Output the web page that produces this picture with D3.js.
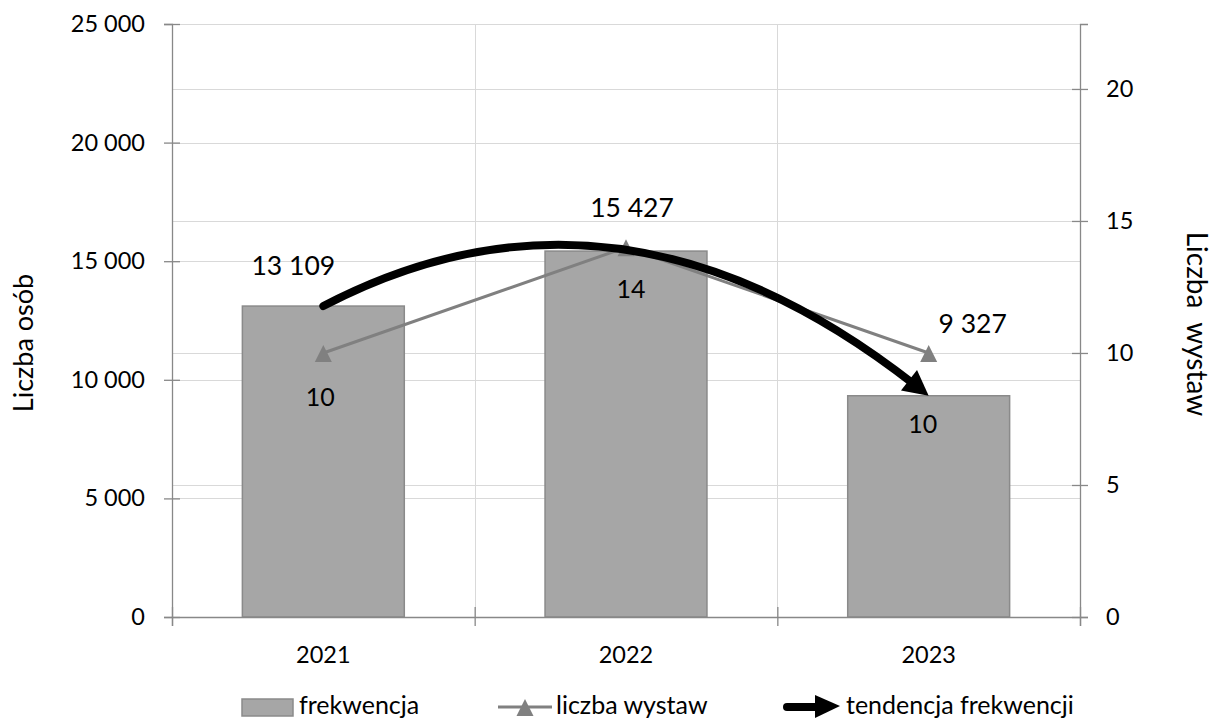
<!DOCTYPE html>
<html><head><meta charset="utf-8">
<script src="https://cdn.jsdelivr.net/npm/d3@7"></script>
<style>body{margin:0;background:#fff}svg{display:block}text{font-family:Lato,"Open Sans",sans-serif;fill:#000}</style>
</head><body>
<svg id="c" width="1215" height="722"></svg>
<script>
const categories = ["2021", "2022", "2023"];
const frekwencja = [13109, 15427, 9327];
const liczbaWystaw = [10, 14, 10];
const leftTicks = [0, 5000, 10000, 15000, 20000, 25000];
const rightTicks = [0, 5, 10, 15, 20];
const seriesNames = ["frekwencja", "liczba wystaw", "tendencja frekwencji"];

const svg = d3.select("#c");
const M = {l:172, r:1080, t:24, b:617};
const loc = d3.formatLocale({decimal:",", thousands:"\u00a0", grouping:[3], currency:["",""]});
const fmt = loc.format(",d");
const FONT = "Lato,'Open Sans',sans-serif";

const x = d3.scaleBand().domain(categories).range([M.l, M.r]).paddingInner(0).paddingOuter(0);
const yL = d3.scaleLinear().domain([0, 25000]).range([M.b, M.t]);
const yR = d3.scaleLinear().domain([0, 22.46]).range([M.b, M.t]);

const grid = svg.append("g").attr("stroke", "#d9d9d9").attr("stroke-width", 1);
leftTicks.slice(1).forEach(v => grid.append("line").attr("x1", M.l).attr("x2", M.r).attr("y1", Math.round(yL(v))+0.5).attr("y2", Math.round(yL(v))+0.5));
rightTicks.slice(1).forEach(v => grid.append("line").attr("x1", M.l).attr("x2", M.r).attr("y1", Math.round(yR(v))+0.5).attr("y2", Math.round(yR(v))+0.5));
categories.forEach((c,i) => { if (i>0) grid.append("line").attr("y1", M.t).attr("y2", M.b).attr("x1", Math.round(x(c))+0.5).attr("x2", Math.round(x(c))+0.5); });

// bars
const bw = x.bandwidth()*0.535;
svg.append("g").selectAll("rect").data(frekwencja).join("rect")
  .attr("x", (d,i) => x(categories[i]) + x.bandwidth()/2 - bw/2)
  .attr("y", d => yL(d)).attr("width", bw).attr("height", d => M.b - yL(d))
  .attr("fill", "#a6a6a6").attr("stroke", "#8a8a8a").attr("stroke-width", 1.5);

// axes
const axisCol = "#888";
const gL = svg.append("g").attr("transform", `translate(${M.l},0)`)
  .call(d3.axisLeft(yL).tickValues(leftTicks).tickFormat(fmt).tickSize(8).tickPadding(19));
const gR = svg.append("g").attr("transform", `translate(${M.r},0)`)
  .call(d3.axisRight(yR).tickValues(rightTicks).tickFormat(d3.format("d")).tickSize(8).tickPadding(18));
const xb = d3.scaleLinear().domain([0,3]).range([M.l, M.r]);
const gB = svg.append("g").attr("transform", `translate(0,${M.b})`)
  .call(d3.axisBottom(xb).tickValues([0,1,2,3]).tickFormat("").tickSize(9));
gB.append("g").selectAll("text").data(categories).join("text")
  .attr("x", d => x(d) + x.bandwidth()/2).attr("y", 46).attr("text-anchor", "middle").text(d => d);
[gL, gR, gB].forEach(g => {
  g.select(".domain").attr("stroke", axisCol).attr("stroke-width", 1.3);
  g.selectAll(".tick line").attr("stroke", axisCol).attr("stroke-width", 1.3);
  g.selectAll("text").attr("font-size", 23.5).attr("fill", "#000").style("font-family", FONT);
});
gL.selectAll(".tick line").attr("x1", 8);
gR.selectAll(".tick line").attr("x1", -8);
gB.selectAll(".tick line").attr("y1", -10);

// line series
const cx = i => x(categories[i]) + x.bandwidth()/2;
svg.append("path").datum(liczbaWystaw)
  .attr("d", d3.line().x((d,i) => cx(i)).y(d => yR(d)))
  .attr("fill", "none").attr("stroke", "#808080").attr("stroke-width", 3);
const triPath = "M0,-8 L8.5,9 L-8.5,9 Z";
svg.append("g").selectAll("path").data(liczbaWystaw).join("path")
  .attr("d", triPath).attr("transform", (d,i) => `translate(${cx(i)},${yR(d)})`).attr("fill", "#808080");

// trend arrow (curve from first bar top to last bar top)
const p0 = [cx(0), yL(frekwencja[0])], p2 = [cx(2), yL(frekwencja[2])];
const ctrl = [cx(1) - 8, yL(frekwencja[1]) - 99];
const dir = [p2[0]-ctrl[0], p2[1]-ctrl[1]]; const L = Math.hypot(dir[0], dir[1]);
const endPt = [p2[0] - dir[0]/L*18, p2[1] - dir[1]/L*18];
const pth = d3.path(); pth.moveTo(...p0); pth.quadraticCurveTo(ctrl[0], ctrl[1], endPt[0], endPt[1]);
svg.append("path").attr("d", pth.toString()).attr("fill", "none").attr("stroke", "#000")
  .attr("stroke-width", 8).attr("stroke-linecap", "round");
const ang = Math.atan2(dir[1], dir[0]) * 180 / Math.PI;
svg.append("path").attr("d", "M0,0 L-25,-13 L-25,13 Z").attr("fill", "#000")
  .attr("transform", `translate(${p2[0]},${p2[1]}) rotate(${ang})`);

// data labels
const barLab = [[-30, -31], [6, -34], [44, -63]];
svg.append("g").selectAll("text").data(frekwencja).join("text")
  .attr("x", (d,i) => cx(i) + barLab[i][0]).attr("y", (d,i) => yL(d) + barLab[i][1])
  .attr("text-anchor", "middle").attr("font-size", 26.5).text(d => fmt(d));
const lineLab = [[-3, 53], [5, 51], [-6, 80]];
svg.append("g").selectAll("text").data(liczbaWystaw).join("text")
  .attr("x", (d,i) => cx(i) + lineLab[i][0]).attr("y", (d,i) => yR(d) + lineLab[i][1])
  .attr("text-anchor", "middle").attr("font-size", 25).text(d => d);

// axis titles
svg.append("text").attr("transform", "translate(33,343) rotate(-90)").attr("text-anchor", "middle")
  .attr("font-size", 27).text("Liczba osób");
svg.append("text").attr("transform", "translate(1187,324) rotate(90)").attr("text-anchor", "middle")
  .attr("font-size", 28).style("white-space", "pre").text("Liczba  wystaw");

// legend
const lg = svg.append("g");
const ly = 707, tb = 714;
lg.append("rect").attr("x", 242).attr("y", 699).attr("width", 51).attr("height", 17)
  .attr("fill", "#a6a6a6").attr("stroke", "#8a8a8a").attr("stroke-width", 1.5);
lg.append("text").attr("x", 299).attr("y", tb).attr("font-size", 25).text(seriesNames[0]);
lg.append("line").attr("x1", 498).attr("x2", 552).attr("y1", ly).attr("y2", ly).attr("stroke", "#808080").attr("stroke-width", 3);
lg.append("path").attr("d", triPath).attr("transform", `translate(525,${ly})`).attr("fill", "#808080");
lg.append("text").attr("x", 556).attr("y", tb).attr("font-size", 25).text(seriesNames[1]);
lg.append("line").attr("x1", 787).attr("x2", 818).attr("y1", ly).attr("y2", ly).attr("stroke", "#000").attr("stroke-width", 8).attr("stroke-linecap", "round");
lg.append("path").attr("d", "M840,706 L815,695 L815,718 Z").attr("fill", "#000");
lg.append("text").attr("x", 846).attr("y", tb).attr("font-size", 25).text(seriesNames[2]);
</script>
</body></html>
